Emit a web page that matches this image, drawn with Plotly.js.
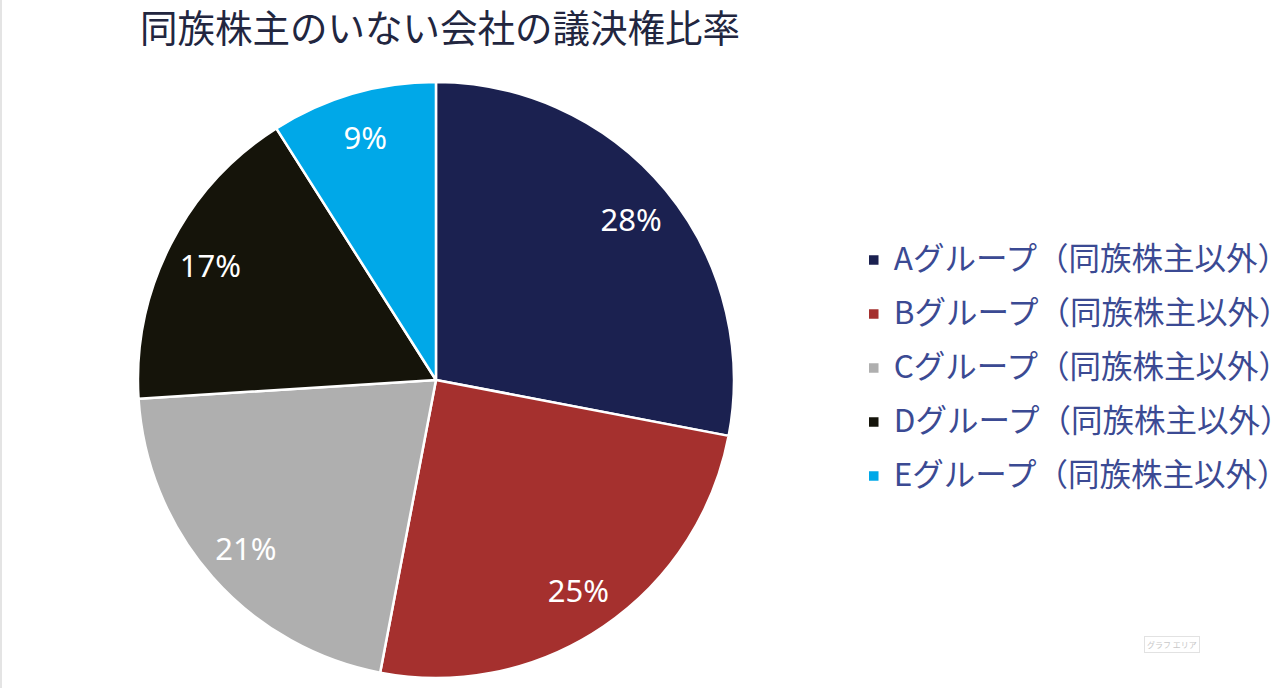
<!DOCTYPE html>
<html>
<head>
<meta charset="utf-8">
<script src="https://cdn.plot.ly/plotly-3.0.1.min.js"></script>
<style>html,body{margin:0;padding:0;background:#fff;}#chart{width:1280px;height:688px;}</style>
</head>
<body>
<div id="chart"></div>
<script>
const categories = [
  "Aグループ（同族株主以外）",
  "Bグループ（同族株主以外）",
  "Cグループ（同族株主以外）",
  "Dグループ（同族株主以外）",
  "Eグループ（同族株主以外）"
];
const shares = [28, 25, 21, 17, 9];
const sliceColors = ["#1B2150", "#A5302E", "#AFAFAF", "#15140A", "#00A8E8"];
const chartTitle = "同族株主のいない会社の議決権比率";

// legend entries: the category text on the 3rd of 4 lines so the entries get the reference spacing
const legendLabels = categories.map(c =>
  " <br> <br><span style=\"font-size:31.5px\">" + c + "</span><br> ");

const pieDomain = { x: [0.1078, 0.5734], y: [0.0145, 0.8808] };

// the visible pie with its legend
const baseTrace = {
  type: "pie",
  labels: legendLabels,
  values: shares,
  sort: false,
  direction: "clockwise",
  rotation: 0,
  marker: { colors: sliceColors, line: { color: "#FFFFFF", width: 2.5 } },
  textinfo: "none",
  showlegend: true,
  domain: pieDomain,
  hoverinfo: "percent"
};

// invisible ring with the same slices, used only to place the percentage labels near the rim
const labelTrace = {
  type: "pie",
  labels: legendLabels,
  values: shares,
  sort: false,
  direction: "clockwise",
  rotation: 0,
  hole: 0.7,
  marker: { colors: shares.map(() => "rgba(0,0,0,0)"), line: { width: 0 } },
  texttemplate: "%{percent:.0%}",
  textposition: "inside",
  insidetextorientation: "horizontal",
  textfont: { family: "Noto Sans, Open Sans, sans-serif", size: 31, color: "#FFFFFF" },
  showlegend: false,
  domain: pieDomain,
  hoverinfo: "skip"
};

const layout = {
  width: 1280,
  height: 688,
  margin: { l: 0, r: 0, t: 0, b: 0, autoexpand: false },
  paper_bgcolor: "#FFFFFF",
  title: {
    text: chartTitle,
    font: { family: "Noto Sans CJK JP, sans-serif", size: 37.5, color: "#22263F" },
    x: 140 / 1280, xanchor: "left", xref: "paper",
    y: 1 - 29 / 688, yanchor: "middle", yref: "paper"
  },
  showlegend: true,
  legend: {
    x: 0.667, xanchor: "left",
    y: 0.465, yanchor: "middle",
    font: { family: "Noto Sans CJK JP, sans-serif", size: 9.8, color: "#3B4A93" },
    bgcolor: "rgba(0,0,0,0)",
    itemwidth: 30
  },
  annotations: [{
    text: "グラフ エリア",
    xref: "paper", yref: "paper",
    x: 1200 / 1280, y: 1 - 653 / 688,
    showarrow: false,
    font: { family: "Noto Sans CJK JP, sans-serif", size: 8, color: "#C8C8C8" },
    bordercolor: "#E2E2E2", borderwidth: 1, borderpad: 2,
    bgcolor: "#FFFFFF"
  }],
  shapes: [{
    type: "line", xref: "paper", yref: "paper",
    x0: 0.0008, x1: 0.0008, y0: 0, y1: 1,
    line: { color: "#E4E4E4", width: 2 }
  }]
};

Plotly.newPlot("chart", [baseTrace, labelTrace], layout, { displayModeBar: false, staticPlot: true });
</script>
</body>
</html>
